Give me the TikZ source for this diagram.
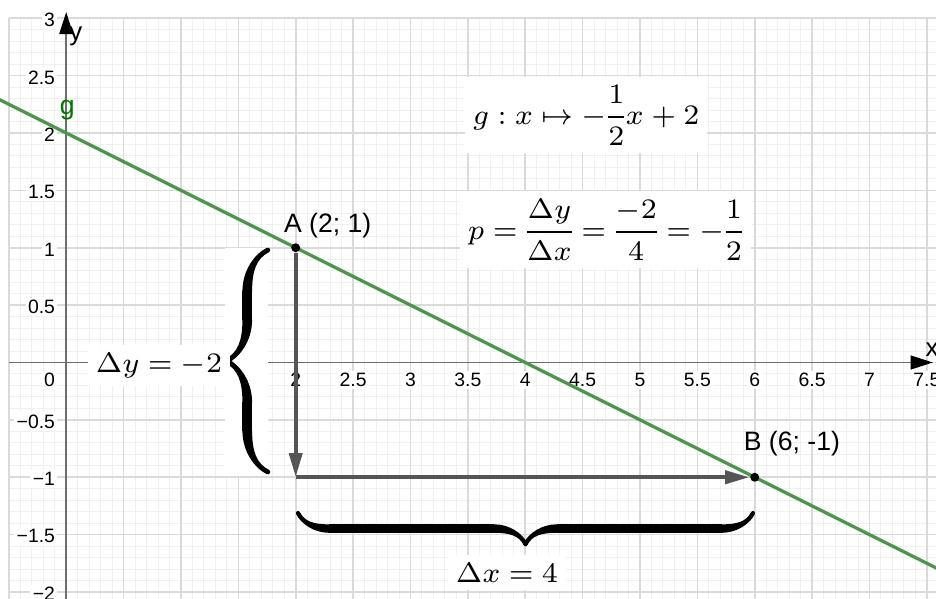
\documentclass[tikz,border=0pt]{standalone}
\usepackage{amsmath}
\usepackage[no-math]{fontspec}
\newfontfamily\labfont{Liberation Sans}
\usetikzlibrary{arrows.meta,decorations.pathreplacing,calligraphy}
\definecolor{gridmin}{RGB}{240,240,240}
\definecolor{gridmaj}{RGB}{218,218,218}
\definecolor{axcol}{RGB}{110,110,110}
\definecolor{gcol}{RGB}{76,150,76}
\definecolor{glab}{RGB}{0,120,0}
\definecolor{veccol}{RGB}{85,85,85}
\newcommand{\tightmath}{\nulldelimiterspace=0.3pt\thickmuskip=4.5mu plus 2mu\medmuskip=4mu plus 2mu minus 2mu}
\begin{document}
\begin{tikzpicture}[x=1cm,y=1cm,
  mingrid/.style={draw=gridmin, line width=0.25pt},
  majgrid/.style={draw=gridmaj, line width=0.4pt},
  axisline/.style={draw=axcol, line width=0.45pt, -{Triangle[length=5.5pt,width=3.4pt,color=black]}},
  tick/.style={font=\labfont\fontsize{4.8}{5.5}\selectfont, fill=white, inner sep=0.6pt},
  ptlab/.style={font=\labfont\fontsize{6.6}{7.5}\selectfont, inner sep=0pt, anchor=base west},
  mathlab/.style={font=\fontsize{7.3}{9}\selectfont\tightmath, fill=white, inner xsep=1.9pt, inner ysep=2pt, anchor=base},
  gline/.style={draw=gcol, line width=0.8pt},
  vec/.style={draw=veccol, line width=1pt, -{Triangle[length=6pt,width=3.2pt]}},
  pt/.style={circle, fill=black, inner sep=0pt, minimum size=0.078cm},
  bracestyle/.style={decorate},
  wbox/.style={fill=white, inner sep=0pt}
]
\useasboundingbox (-0.577,-2.061) rectangle (7.580,3.159);
\clip (-0.577,-2.061) rectangle (7.580,3.159);
% grid
\draw[mingrid] (-0.5,-2.1) grid[step=0.1] (7.6,3.0);
\draw[majgrid] (-0.5,-2.1) grid[step=0.5] (7.6,3.0);
% axes
\coordinate (xa0) at (-0.5,0);
\coordinate (xa1) at (7.553,0);
\coordinate (ya0) at (0,-2.1);
\coordinate (ya1) at (0,3.054);
\draw[axisline] (xa0) -- (xa1);
\draw[axisline] (ya0) -- (ya1);
\node[ptlab, font=\labfont\fontsize{6.4}{7}\selectfont] (xlab) at (7.483,0.05) {x};
\node[ptlab, font=\labfont\fontsize{6.4}{7}\selectfont] (ylab) at (0.02,2.81) {y};
% x tick labels
\foreach \v/\t [count=\i] in {2/2,2.5/2.5,3/3,3.5/3.5,4/4,4.5/4.5,5/5,5.5/5.5,6/6,6.5/6.5,7/7,7.5/7.5}
  \node[tick] (xt\i) at (\v,-0.153) {\t};
% y tick labels
\foreach \v/\t [count=\i] in {3/3,2.5/2.5,2/2,1.5/1.5,1/1,0.5/0.5,-0.5/−0.5,-1/−1,-1.5/−1.5,-2/−2}
  \node[tick, anchor=east] (yt\i) at (-0.07,\v-0.015) {\t};
\node[tick, anchor=east] (yt0) at (-0.07,-0.153) {0};
% line g
\coordinate (gL) at (-0.6,2.3);
\coordinate (gR) at (7.6,-1.8);
\draw[gline] (gL) -- (gR);
\node[ptlab, text=glab] (glabel) at (-0.063,2.157) {g};
% points and vectors
\node[pt] (A) at (2,1) {};
\node[pt] (B) at (6,-1) {};
\coordinate (C) at (2,-1);
\draw[vec] (A) -- (C);
\draw[vec] (C) -- (B);
\node[ptlab] (Alab) at (1.891,1.137) {A (2; 1)};
\node[ptlab] (Blab) at (5.898,-0.763) {B (6; -1)};
% vertical brace with white box
\node[wbox, minimum width=0.376cm, minimum height=1.986cm] (vbox) at (1.571,0.004) {};
\coordinate (vb0) at (1.757,-0.954);
\coordinate (vb1) at (1.757,0.980);
\draw[bracestyle, line width=2.4pt, decoration={calligraphic brace, amplitude=10.2pt}] (vb0) -- (vb1);
\node[mathlab] (dy) at (0.809,-0.083) {$\Delta y = -2$};
% horizontal brace
\coordinate (hb0) at (5.985,-1.312);
\coordinate (hb1) at (2.02,-1.312);
\draw[bracestyle, line width=2.1pt, decoration={calligraphic brace, amplitude=7.7pt}] (hb0) -- (hb1);
\node[mathlab] (dx) at (3.84,-1.913) {$\Delta x = 4$};
% formulas
\node[mathlab] (gf) at (4.53,2.078) {$g : x \mapsto -\dfrac{1}{2}x + 2$};
\node[mathlab] (pf) at (4.70,1.076) {$p = \dfrac{\Delta y}{\Delta x} = \dfrac{-2}{4} = -\dfrac{1}{2}$};
\end{tikzpicture}
\end{document}
